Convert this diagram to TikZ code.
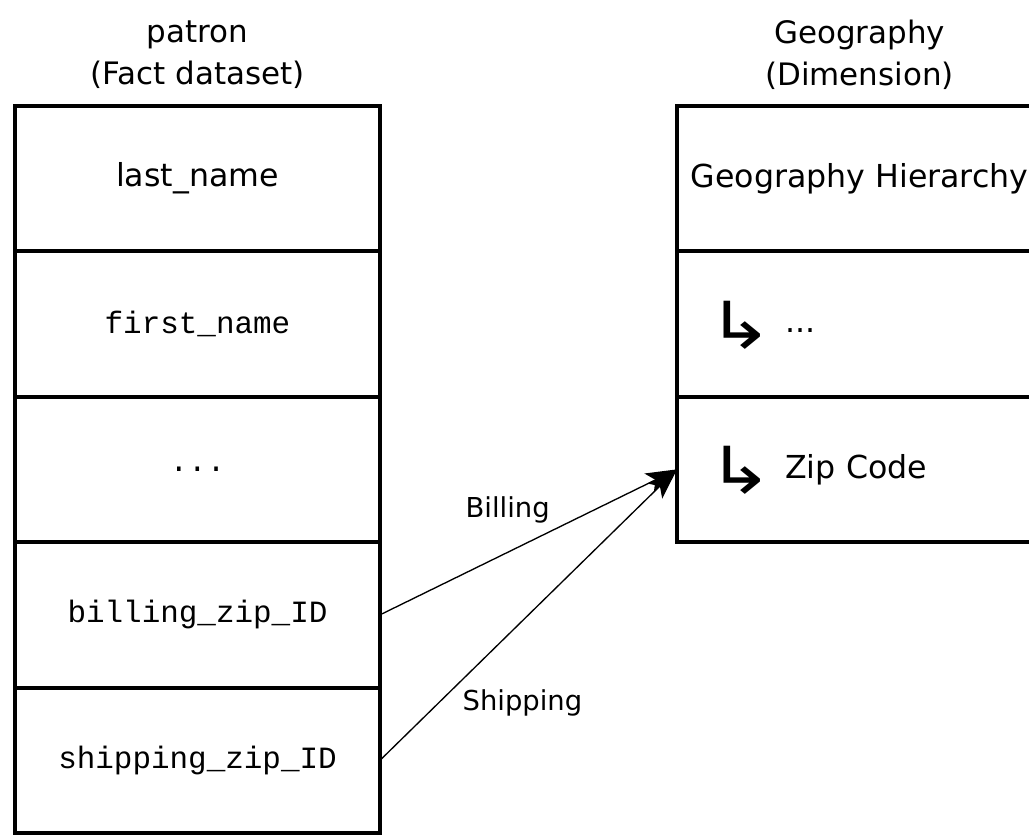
\documentclass[tikz,border=0pt]{standalone}
\usepackage{fontspec}
\setmainfont{DejaVu Sans}
\setmonofont{Liberation Mono}
\usetikzlibrary{positioning, arrows.meta}
\tikzstyle{diagram} = [x = .025cm, y = -.025cm]
\tikzstyle{fieldBox} = [draw, line width = 2.8pt, minimum width = 9.125cm, minimum height = 3.635cm, inner sep = 0pt, outer sep = 0pt, font = \fontsize{22.5}{26}\selectfont]
\tikzstyle{codeField} = [fieldBox, font = \fontsize{22}{26}\selectfont\ttfamily]
\tikzstyle{levelField} = [fieldBox, text width = 7.575cm, inner xsep = .775cm, align = left]
\tikzstyle{tableTitle} = [align = center, font = \fontsize{22}{30}\selectfont]
\tikzstyle{joinLine} = [line width = .95pt, -{Stealth[length = 22pt, width = 15pt, inset = 5pt]}]
\tikzstyle{joinText} = [font = \fontsize{19.5}{22}\selectfont]
\newcommand{\levelArrow}{\vphantom{Zip}\smash{\raisebox{-11pt}{\scalebox{2.5}[2.05]{↳}}}\hspace{.35em}}
\newcommand{\fieldBelow}[4]{\node [#1, below = 0pt of #2] (#3) {#4};}

\begin{document}
\begin{tikzpicture}[diagram]
  \useasboundingbox (0,0) rectangle (1029,834);
  % fact table
  \node [tableTitle] (patronTitle) at (197.5,55) {patron\\(Fact dataset)};
  \node [fieldBox] (lastName) at (197.5,178.5) {last\_name};
  \fieldBelow{codeField}{lastName}{firstName}{first\_name}
  \fieldBelow{codeField}{firstName}{moreFields}{...}
  \fieldBelow{codeField}{moreFields}{billingZip}{billing\_zip\_ID}
  \fieldBelow{codeField}{billingZip}{shippingZip}{shipping\_zip\_ID}

  % dimension
  \node [tableTitle] (geoTitle) at (859.5,55) {Geography\\(Dimension)};
  \node [fieldBox] (geoHierarchy) at (859.5,178.5) {Geography Hierarchy};
  \fieldBelow{levelField}{geoHierarchy}{moreLevels}{\levelArrow...}
  \fieldBelow{levelField}{moreLevels}{zipCode}{\levelArrow Zip Code}

  \draw [joinLine] (billingZip.east) -- (zipCode.west) node [joinText, pos = .43, yshift = 1.05cm] {Billing};
  \draw [joinLine] (shippingZip.east) -- (zipCode.west) node [joinText, pos = .21, xshift = 2cm, yshift = -.1cm] {Shipping};
\end{tikzpicture}
\end{document}
